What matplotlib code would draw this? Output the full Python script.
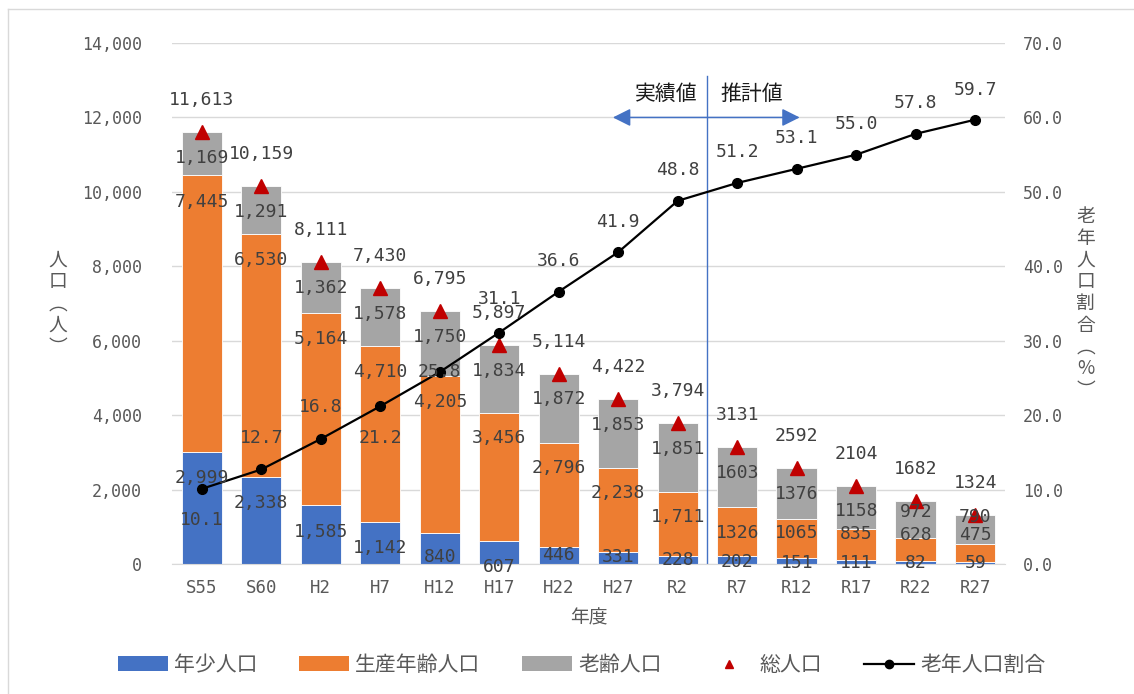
import matplotlib
matplotlib.use('Agg')
import matplotlib.pyplot as plt
from matplotlib.lines import Line2D
from matplotlib.patches import Patch
import numpy as np

plt.rcParams['font.family'] = ['Noto Sans CJK JP', 'DejaVu Sans']
NUM_FONT = 'DejaVu Sans Mono'

# 年度別人口（S55〜R2 実績、R7以降 推計）
years = ['S55', 'S60', 'H2', 'H7', 'H12', 'H17', 'H22', 'H27', 'R2',
         'R7', 'R12', 'R17', 'R22', 'R27']
young = [2999, 2338, 1585, 1142, 840, 607, 446, 331, 228, 202, 151, 111, 82, 59]
working = [7445, 6530, 5164, 4710, 4205, 3456, 2796, 2238, 1711, 1326, 1065, 835, 628, 475]
elderly = [1169, 1291, 1362, 1578, 1750, 1834, 1872, 1853, 1851, 1603, 1376, 1158, 972, 790]
total = [11613, 10159, 8111, 7430, 6795, 5897, 5114, 4422, 3794, 3131, 2592, 2104, 1682, 1324]
aging_rate = [10.1, 12.7, 16.8, 21.2, 25.8, 31.1, 36.6, 41.9, 48.8, 51.2, 53.1, 55.0, 57.8, 59.7]
n_actual = 9  # S55..R2 are census results

# label nudges in pixels (negative = down)
young_dy = [-26, -26, -27, -26, -24, -26, -8, -5, -4, -6, -5, -3, -2, -1]
working_dy = [-27, -26, -26, -26, -26, -25, -25, -25, -25, -26, -14, -5, 3, 9]
elderly_dy = [-26, -26, -26, -26, -26, -26, -25, -26, -26, -26, -26, -25, -11, -2]
total_dy = 32
rate_dy = [-31, 31, 32, -32, 0, 34, 31, 30, 31, 31, 31, 31, 31, 30]

BLUE = '#4472C4'
ORANGE = '#ED7D31'
GRAY = '#A5A5A5'
RED = '#C00000'
TXT = '#404040'
AX_TXT = '#595959'

x = np.arange(len(years))
young = np.array(young)
working = np.array(working)
elderly = np.array(elderly)
top_young = young
top_working = young + working
top_all = young + working + elderly

fig = plt.figure(figsize=(11.34, 6.94), dpi=100)
ax = fig.add_axes([0.1517, 0.1873, 0.7345, 0.7507])
ax2 = ax.twinx()

w = 0.68
ax.bar(x, young, w, color=BLUE, edgecolor='white', linewidth=0.6)
ax.bar(x, working, w, bottom=top_young, color=ORANGE, edgecolor='white', linewidth=0.6)
ax.bar(x, elderly, w, bottom=top_working, color=GRAY, edgecolor='white', linewidth=0.6)
ax.plot(x, total, ls='none', marker='^', ms=9.5, color=RED, zorder=3)

ax2.plot(x, aging_rate, color='black', lw=1.6, marker='o', ms=7, zorder=3)

# divider between actual and projected values
ax.axvline(n_actual - 0.5, ymin=0, ymax=0.937, color=BLUE, lw=1)
ax.annotate('', xy=(6.91, 12000), xytext=(10.05, 12000),
            arrowprops=dict(arrowstyle='<|-|>,head_length=0.4,head_width=0.2',
                            mutation_scale=27, color=BLUE, lw=1.1,
                            shrinkA=0, shrinkB=0))
ax.annotate('実績値', xy=(n_actual - 0.5, 12630), xytext=(-10, 0),
            textcoords='offset pixels', ha='right', va='center',
            fontsize=15, color='#1a1a1a')
ax.annotate('推計値', xy=(n_actual - 0.5, 12630), xytext=(13, 0),
            textcoords='offset pixels', ha='left', va='center',
            fontsize=15, color='#1a1a1a')


def fmt(v, i):
    return f'{v:,}' if i < n_actual else f'{v}'


lbl_kw = dict(textcoords='offset pixels', ha='center', va='center',
              fontsize=13, color=TXT, fontfamily=NUM_FONT,
              xycoords=ax.transData, zorder=5)
for i in x:
    ax2.annotate(fmt(young[i], i), xy=(i, top_young[i]), xytext=(0, young_dy[i]), **lbl_kw)
    ax2.annotate(fmt(working[i], i), xy=(i, top_working[i]), xytext=(0, working_dy[i]), **lbl_kw)
    ax2.annotate(fmt(elderly[i], i), xy=(i, top_all[i]), xytext=(0, elderly_dy[i]), **lbl_kw)
    ax2.annotate(fmt(total[i], i), xy=(i, total[i]), xytext=(0, total_dy), **lbl_kw)
    rate_kw = dict(lbl_kw, xycoords=ax2.transData)
    ax2.annotate(f'{aging_rate[i]:.1f}', xy=(i, aging_rate[i]), xytext=(0, rate_dy[i]), **rate_kw)

# axes styling
ax.set_xlim(-0.5, len(years) - 0.5)
ax.set_ylim(0, 14000)
ax2.set_ylim(0, 70)
ax.set_axisbelow(True)
ax.grid(axis='y', color='#D9D9D9', lw=1)
for sp in ax.spines.values():
    sp.set_visible(False)
for sp in ax2.spines.values():
    sp.set_visible(False)
ax.spines['bottom'].set_visible(True)
ax.spines['bottom'].set_color('#D9D9D9')

yt = np.arange(0, 14001, 2000)
ax.set_yticks(yt)
ax.set_yticklabels([f'{v:,}' for v in yt], fontfamily=NUM_FONT, fontsize=12, color=AX_TXT)
ax.tick_params(axis='y', length=0, pad=21.6)
rt = np.arange(0, 71, 10)
ax2.set_yticks(rt)
ax2.set_yticklabels([f'{v:.1f}' for v in rt], fontfamily=NUM_FONT, fontsize=12, color=AX_TXT)
ax2.tick_params(axis='y', length=0, pad=13)
ax.set_xticks(x)
ax.set_xticklabels(years, fontfamily=NUM_FONT, fontsize=12.5, color=AX_TXT)
ax.tick_params(axis='x', length=0, pad=11)

ax.set_xlabel('年度', fontsize=13.5, color=AX_TXT, va='center')
ax.xaxis.set_label_coords(0.5, -0.1036)
ax.set_ylabel('人\n口\n︵\n人\n︶', rotation=0, fontsize=13.5, color=AX_TXT,
              ha='center', va='center', linespacing=1.05)
ax.yaxis.set_label_coords(-0.137, 0.5)
ax2.set_ylabel('老\n年\n人\n口\n割\n合\n︵\n%\n︶', rotation=0, fontsize=13.5,
               color=AX_TXT, ha='center', va='center', linespacing=1.05)
ax2.yaxis.set_label_coords(1.097, 0.5)

handles = [Patch(facecolor=BLUE), Patch(facecolor=ORANGE), Patch(facecolor=GRAY),
           Line2D([], [], ls='none', marker='^', ms=6, color=RED),
           Line2D([], [], color='black', lw=1.6, marker='o', ms=6)]
labels = ['年少人口', '生産年齢人口', '老齢人口', '総人口', '老年人口割合']
fig.legend(handles, labels, loc='center', bbox_to_anchor=(0.513, 0.042), ncol=5,
           frameon=False, fontsize=15, handlelength=2.4, handletextpad=0.3,
           columnspacing=2.0, labelcolor=AX_TXT)

# chart frame
fig.add_artist(Line2D([8 / 1134, 1], [1 - 9 / 694] * 2, transform=fig.transFigure,
                      color='#D9D9D9', lw=1))
fig.add_artist(Line2D([8 / 1134] * 2, [0, 1 - 9 / 694], transform=fig.transFigure,
                      color='#D9D9D9', lw=1))

fig.savefig('out.png', dpi=100)
